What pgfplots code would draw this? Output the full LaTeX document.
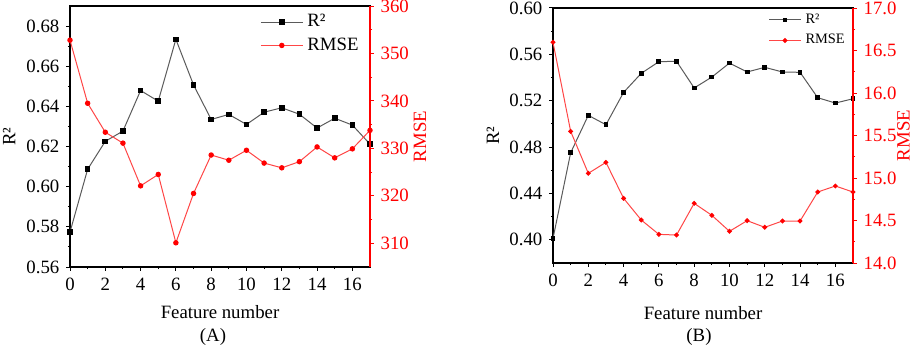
\documentclass[border=0pt]{standalone}
\usepackage{pgfplots}
\pgfplotsset{compat=1.18}
\usepackage{pgfplotstable}
\usepackage{fontspec}
\setmainfont{Liberation Serif}
\definecolor{rmsered}{RGB}{255,0,0}
\definecolor{rmseline}{RGB}{255,70,70}
\definecolor{rline}{RGB}{90,90,90}

\pgfplotstableread{
x r2 rmse
0 0.5774 352.8
1 0.6087 339.5
2 0.6226 333.4
3 0.6277 331.1
4 0.6479 322.1
5 0.6426 324.5
6 0.6734 310.1
7 0.6507 320.5
8 0.6335 328.6
9 0.6360 327.5
10 0.6310 329.6
11 0.6371 326.9
12 0.6393 325.9
13 0.6361 327.2
14 0.6292 330.3
15 0.6341 328.0
16 0.6307 329.9
17 0.6212 333.8
}\dataA

\pgfplotstableread{
x r2 rmse
0 0.4012 16.596
1 0.4751 15.549
2 0.5074 15.055
3 0.4993 15.184
4 0.5272 14.761
5 0.5436 14.506
6 0.5537 14.337
7 0.5540 14.329
8 0.5310 14.702
9 0.5404 14.561
10 0.5525 14.373
11 0.5448 14.498
12 0.5488 14.420
13 0.5448 14.494
14 0.5445 14.494
15 0.5226 14.835
16 0.5180 14.906
17 0.5217 14.835
}\dataB

\pgfplotsset{
  every axis/.append style={
    scale only axis,
    font=\fontsize{9.4}{11}\selectfont,
    /pgf/number format/assume math mode=true,
    tick align=outside,
    major tick length=1.8pt,
    minor tick length=1.1pt,
    axis line style={line width=0.7pt},
    every tick/.style={line width=0.5pt},
    xmin=0, xmax=17,
  },
  r2plot/.style={rline, line width=0.5pt, mark=square*, mark size=1.15pt, mark options={fill=black, draw=black, solid}},
  rmseplot/.style={rmseline, line width=0.5pt, mark=*, mark size=1.1pt, mark options={fill=rmsered, draw=rmsered, solid}},
}

\begin{document}
\begin{tikzpicture}
\useasboundingbox (0,0) rectangle (456.5pt,174pt);

% ---------- Panel A ----------
\begin{axis}[
  at={(35pt,40.5pt)}, anchor=south west, width=150pt, height=130.5pt,
  ymin=0.56, ymax=0.69,
  xtick={0,2,4,6,8,10,12,14,16}, minor x tick num=1,
  ytick={0.56,0.58,0.60,0.62,0.64,0.66,0.68}, minor y tick num=1,
  xtick pos=bottom, ytick pos=left,
  yticklabel style={/pgf/number format/.cd, fixed, fixed zerofill, precision=2},
  xlabel={Feature number},
  xlabel style={at={(axis description cs:0.5,0)}, anchor=center, yshift=-22.5pt},
  ylabel={R²},
  ylabel style={at={(axis description cs:-0.203,0.5)}, anchor=center},
]
\addplot[r2plot] table[x=x, y=r2] {\dataA};
\end{axis}
\begin{axis}[
  at={(35pt,40.5pt)}, anchor=south west, width=150pt, height=130.5pt,
  ymin=305, ymax=360,
  axis y line*=right, axis x line=none,
  ytick={310,320,330,340,350,360}, minor y tick num=1,
  y axis line style={rmsered},
  every y tick/.style={rmsered, line width=0.5pt},
  yticklabel style={text=rmsered},
  ylabel={RMSE},
  ylabel style={text=rmsered, at={(axis description cs:1.167,0.5)}, anchor=center},
  legend style={at={(rel axis cs:0.633,0.985)}, anchor=north west, draw=none, fill=none, inner sep=0pt, row sep=0pt, font=\fontsize{9.4}{11}\selectfont},
  legend cell align=left,
  legend image code/.code={\draw[mark repeat=2,mark phase=2,#1] plot coordinates {(0pt,0pt)(10.5pt,0pt)(21pt,0pt)};},
]
\addlegendimage{r2plot}
\addlegendentry{R²}
\addplot[rmseplot] table[x=x, y=rmse] {\dataA};
\addlegendentry{RMSE}
\end{axis}
\node[font=\fontsize{9.4}{11}\selectfont] at (106.5pt,5.5pt) {(A)};

% ---------- Panel B ----------
\begin{axis}[
  at={(276.5pt,42.5pt)}, anchor=south west, width=150pt, height=127.5pt,
  ymin=0.38, ymax=0.60,
  xtick={0,2,4,6,8,10,12,14,16}, minor x tick num=1,
  ytick={0.40,0.44,0.48,0.52,0.56,0.60}, minor y tick num=1,
  xtick pos=bottom, ytick pos=left,
  yticklabel style={/pgf/number format/.cd, fixed, fixed zerofill, precision=2},
  xlabel={Feature number},
  xlabel style={at={(axis description cs:0.5,0)}, anchor=center, yshift=-24.8pt},
  ylabel={R²},
  ylabel style={at={(axis description cs:-0.2,0.5)}, anchor=center},
]
\addplot[r2plot, mark size=0.95pt] table[x=x, y=r2] {\dataB};
\end{axis}
\begin{axis}[
  at={(276.5pt,42.5pt)}, anchor=south west, width=150pt, height=127.5pt,
  ymin=14, ymax=17,
  axis y line*=right, axis x line=none,
  ytick={14,14.5,15,15.5,16,16.5,17}, minor y tick num=1,
  yticklabel style={text=rmsered, /pgf/number format/.cd, fixed, fixed zerofill, precision=1},
  y axis line style={rmsered},
  every y tick/.style={rmsered, line width=0.5pt},
  ylabel={RMSE},
  ylabel style={text=rmsered, at={(axis description cs:1.168,0.5)}, anchor=center},
  legend style={at={(rel axis cs:0.717,0.995)}, anchor=north west, draw=none, fill=none, inner sep=0pt, row sep=0pt, font=\fontsize{7.2}{8.5}\selectfont},
  legend cell align=left,
  legend image code/.code={\draw[mark repeat=2,mark phase=2,#1] plot coordinates {(0pt,0pt)(8pt,0pt)(16pt,0pt)};},
]
\addlegendimage{r2plot, mark size=0.95pt}
\addlegendentry{R²}
\addplot[rmseplot, mark size=0.95pt] table[x=x, y=rmse] {\dataB};
\addlegendentry{RMSE}
\end{axis}
\node[font=\fontsize{9.4}{11}\selectfont] at (349.5pt,5.5pt) {(B)};
\end{tikzpicture}
\end{document}
